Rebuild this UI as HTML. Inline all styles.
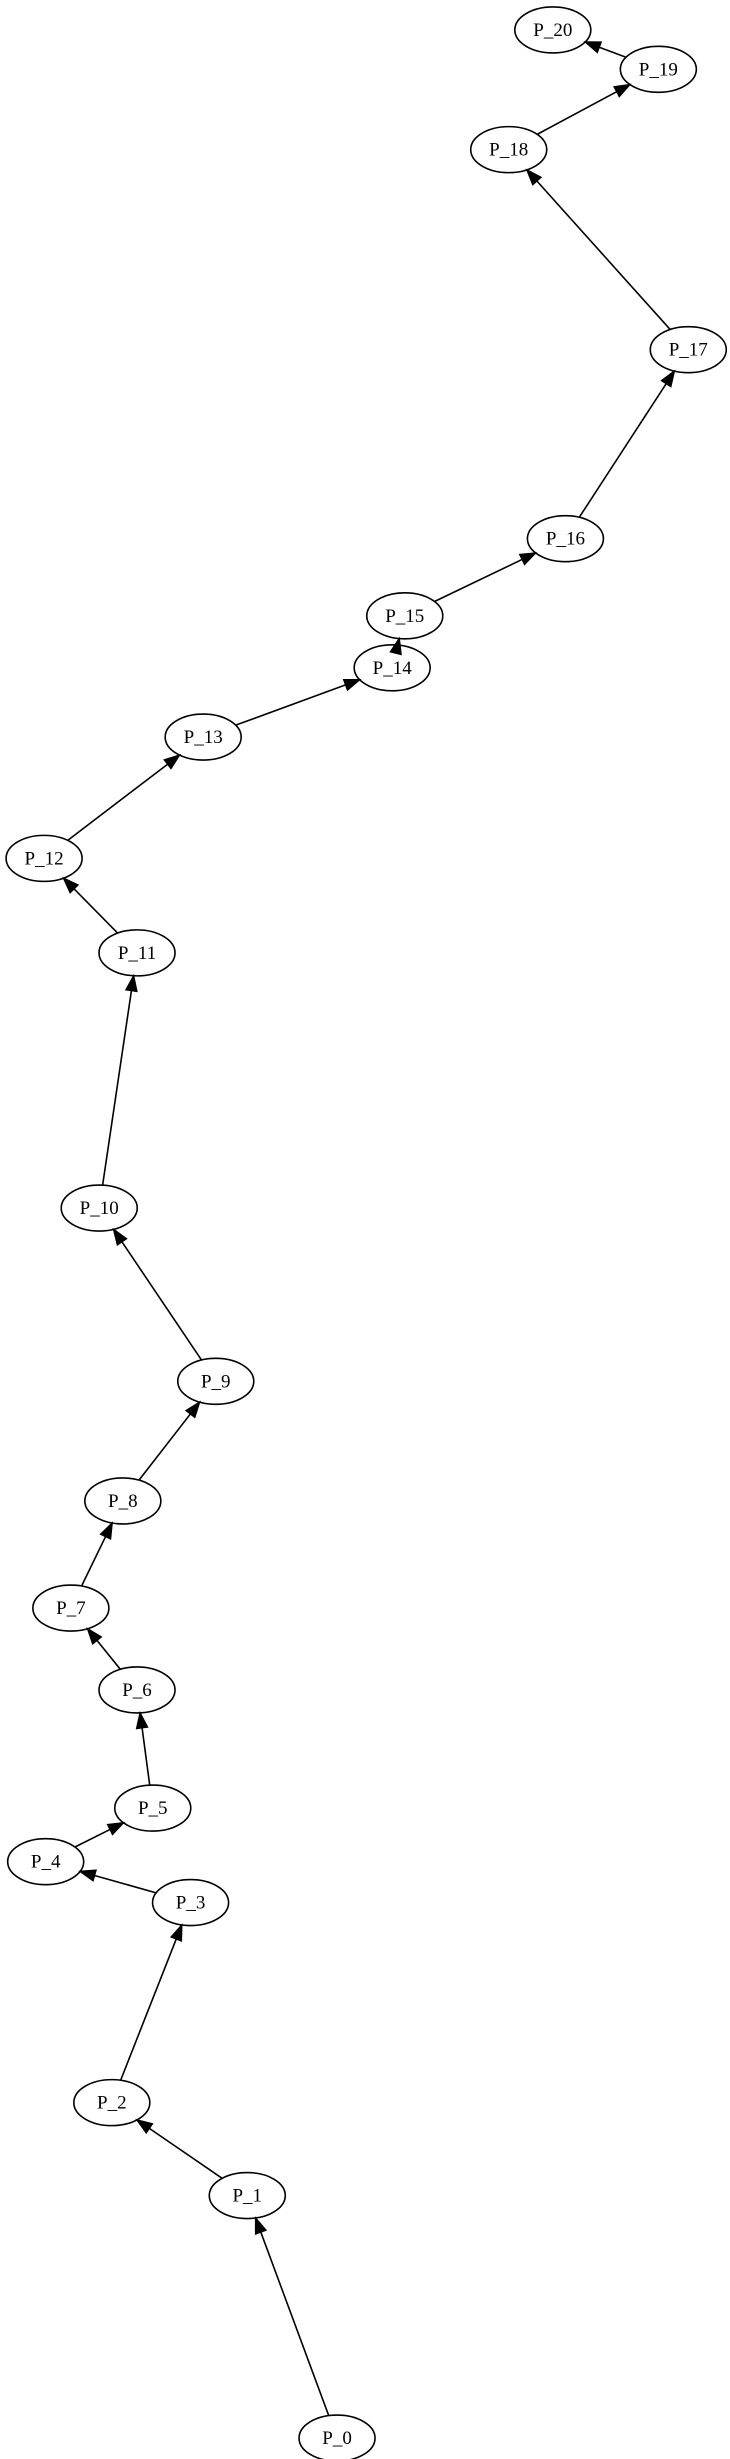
<!DOCTYPE html>
<html><head><meta charset="utf-8"><style>
html,body{margin:0;padding:0;background:#fff;}
svg{display:block;}
text{font-family:"Liberation Serif",serif;font-size:19px;}
</style></head><body>
<svg id="g" width="730" height="2459" viewBox="0 0 730 2459"></svg>
<script>
const nodeLabels=["P_0","P_1","P_2","P_3","P_4","P_5","P_6","P_7","P_8","P_9","P_10","P_11","P_12","P_13","P_14","P_15","P_16","P_17","P_18","P_19","P_20"];
const nodeX=[214,157,71,121,29,97,87,45,78,137,63,87,28,129,249,257,359,437,323,418,351];
const nodeY=[1548,1394,1335,1208,1182,1148,1073,1021,953,877,767,605,545,468,424,391,342,222,95,44,19];
const edgeFrom=[0,1,2,3,4,5,6,7,8,9,10,11,12,13,14,15,16,17,18,19];
const edgeTo=[1,2,3,4,5,6,7,8,9,10,11,12,13,14,15,16,17,18,19,20];
const S=1.575, RX=38, RY=23;
const svg=document.getElementById('g');
const NS='http://www.w3.org/2000/svg';
function px(i){return nodeX[i]*S;}
function py(i){return nodeY[i]*S;}
function clip(cx,cy,dx,dy){const t=1/Math.sqrt((dx*dx)/(RX*RX)+(dy*dy)/(RY*RY));return [cx+dx*t,cy+dy*t];}
for(let k=0;k<edgeFrom.length;k++){
  const a=edgeFrom[k],b=edgeTo[k];
  const x1=px(a),y1=py(a),x2=px(b),y2=py(b);
  const dx=x2-x1,dy=y2-y1,L=Math.hypot(dx,dy),ux=dx/L,uy=dy/L;
  const s=clip(x1,y1,dx,dy), e=clip(x2,y2,-dx,-dy);
  const AL=15,AW=5.5;
  const bx=e[0]-ux*AL,by=e[1]-uy*AL;
  const g=document.createElementNS(NS,'g');
  
  
  const segLen=(bx-s[0])*ux+(by-s[1])*uy;
  if(segLen>0){
    const ln=document.createElementNS(NS,'line');
    ln.setAttribute('x1',s[0]);ln.setAttribute('y1',s[1]);ln.setAttribute('x2',bx);ln.setAttribute('y2',by);
    ln.setAttribute('stroke','#000');ln.setAttribute('stroke-width','1.6');
    g.appendChild(ln);
  }
  const p=document.createElementNS(NS,'polygon');
  p.setAttribute('points',`${e[0]},${e[1]} ${bx-uy*AW},${by+ux*AW} ${bx+uy*AW},${by-ux*AW}`);
  p.setAttribute('fill','#000');p.setAttribute('stroke','#000');p.setAttribute('stroke-width','1.4');
  g.appendChild(p);
  svg.appendChild(g);
}
for(let i=0;i<nodeLabels.length;i++){
  const g=document.createElementNS(NS,'g');
  
  
  const el=document.createElementNS(NS,'ellipse');
  el.setAttribute('cx',px(i));el.setAttribute('cy',py(i));el.setAttribute('rx',RX);el.setAttribute('ry',RY);
  el.setAttribute('fill','none');el.setAttribute('stroke','#000');el.setAttribute('stroke-width','1.6');
  g.appendChild(el);
  const t=document.createElementNS(NS,'text');
  t.setAttribute('x',px(i));t.setAttribute('y',py(i)+6);t.setAttribute('text-anchor','middle');
  t.textContent=nodeLabels[i];
  g.appendChild(t);
  svg.appendChild(g);
}
</script>
</body></html>
